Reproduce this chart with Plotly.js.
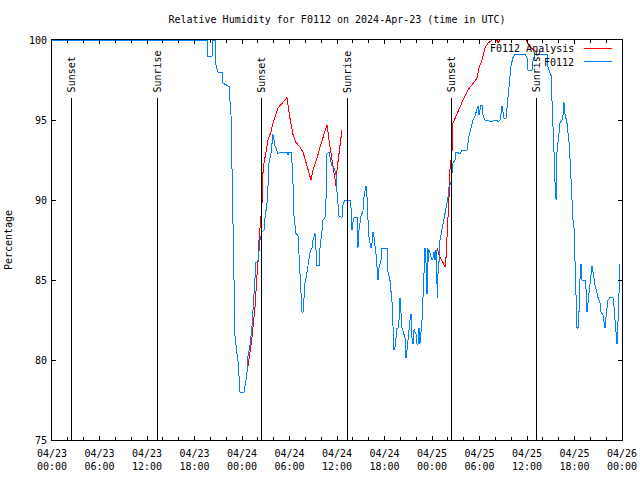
<!DOCTYPE html>
<html>
<head>
<meta charset="utf-8">
<script src="https://cdn.plot.ly/plotly-3.0.1.min.js"></script>
<style>
html,body{margin:0;padding:0;background:#fff;}
#chart{width:640px;height:480px;}
#chart .scatterlayer path.js-line{shape-rendering:crispEdges;}
#chart .shapelayer path{shape-rendering:crispEdges;}
</style>
</head>
<body>
<div id="chart"></div>
<script>
// Hours since 2024-04-23 00:00 UTC, and relative humidity (%) for station F0112
const startDate = '2024-04-23';
const blueHours = [0,19.58,19.70,20.21,20.34,20.59,20.72,20.97,21.47,21.60,22.36,22.61,22.74,22.86,22.99,23.12,23.37,23.49,23.75,24.25,24.50,24.63,24.76,25.01,25.26,25.39,25.52,25.77,26.02,26.15,26.27,26.53,26.78,26.91,27.16,27.28,27.41,27.66,27.79,27.91,28.17,28.42,28.55,28.80,29.68,29.81,29.94,30.19,30.32,30.44,30.57,30.82,31.07,31.20,31.33,31.45,31.58,31.71,31.83,31.96,32.21,32.34,32.59,32.84,32.97,33.22,33.35,33.47,33.73,33.85,34.11,34.23,34.48,34.61,34.74,34.99,35.24,35.37,35.62,35.87,36.00,36.13,36.25,36.63,36.76,37.01,37.64,37.77,37.89,38.02,38.15,38.53,38.59,38.65,38.78,39.03,39.28,39.41,39.66,39.79,39.92,40.04,40.29,40.42,40.55,40.67,40.93,41.05,41.18,41.31,41.56,41.68,42.32,42.44,42.69,42.95,43.07,43.20,43.33,43.45,43.58,43.71,43.83,43.96,44.08,44.21,44.59,44.72,44.84,44.97,45.22,45.35,45.47,45.60,45.73,45.98,46.11,46.23,46.36,46.48,46.61,46.74,46.86,46.99,47.12,47.24,47.37,47.49,47.56,47.62,47.87,48.00,48.13,48.25,48.38,48.51,48.63,48.69,48.76,48.88,49.01,49.26,49.39,49.64,49.89,50.02,50.15,50.40,50.53,50.65,50.90,51.03,51.54,51.79,52.42,52.55,52.67,52.93,53.18,53.43,53.68,53.81,53.94,54.19,54.32,54.44,54.69,55.58,55.83,56.21,56.34,56.59,56.72,56.84,56.97,57.10,57.35,57.47,57.60,57.73,57.98,58.23,58.48,59.75,60.00,60.13,60.63,60.76,61.01,62.53,62.65,63.03,63.16,63.29,63.41,63.54,63.67,63.79,64.04,64.17,64.42,64.55,64.67,64.80,65.05,65.18,65.31,65.43,65.56,65.68,65.81,65.94,66.06,66.19,66.32,66.44,66.57,66.69,66.82,66.95,67.33,67.45,67.58,67.71,67.83,68.08,68.21,68.34,68.46,68.59,68.84,68.97,69.22,69.35,69.60,69.73,69.85,69.98,70.11,70.23,70.48,70.86,70.99,71.12,71.24,71.37,71.49,71.62,71.75];
const blueValues = [100,100,99.0,99.0,100,100,98.4,98.0,98.0,97.3,97.1,95.3,91.9,88.0,84.0,81.5,80.4,80.0,78.0,78.0,78.75,79.25,80.25,80.9,82.1,83.0,84.5,86.1,86.1,86.7,87.5,88.0,88.1,88.9,89.8,90.8,92.3,92.9,93.6,94.1,93.4,93.1,92.9,93.0,93.0,92.8,93.0,93.0,92.3,91.1,89.0,87.9,87.8,86.6,85.2,83.75,83.0,83.0,84.2,84.8,85.5,86.0,86.7,87.0,87.5,87.9,86.9,85.9,85.9,87.0,88.1,88.75,88.9,90.0,92.9,93.0,92.4,92.1,92.0,91.6,90.5,89.8,89.0,88.9,89.7,90.0,90.0,89.5,88.1,88.6,88.9,88.9,87.6,87.0,88.1,89.0,89.3,90.2,90.9,90.2,88.75,87.7,87.0,87.3,88.0,87.7,86.6,85.75,85.0,85.75,86.25,87.0,87.0,85.5,85.0,83.6,82.3,80.6,80.8,81.4,82.0,82.0,82.5,83.9,82.5,82.0,81.4,80.1,80.6,81.4,82.5,82.9,81.4,81.0,81.9,81.6,81.0,81.0,82.0,81.0,81.75,82.5,83.9,86.1,87.0,86.1,84.1,87.0,86.1,86.9,86.4,86.25,86.4,86.75,86.25,86.9,84.8,83.9,85.4,86.1,87.5,88.1,88.5,89.2,89.8,90.2,90.8,91.1,91.6,92.3,92.5,93.0,92.9,93.1,93.1,93.6,94.0,94.5,95.0,95.25,95.75,95.9,95.3,95.9,95.9,95.3,95.0,94.9,95.0,95.0,94.9,95.0,95.4,95.9,95.5,95.1,95.1,95.75,96.7,97.5,98.4,98.9,99.1,99.1,98.9,98.1,98.1,98.7,99.1,99.1,98.3,97.8,96.4,94.8,93.0,91.1,90.0,93.0,94.25,94.8,95.0,95.3,96.1,95.4,94.8,94.25,93.6,92.6,91.25,89.8,88.75,88.25,86.6,83.6,82.0,82.0,83.0,85.0,86.0,85.0,85.0,84.5,83.0,83.6,84.2,85.4,85.9,85.5,85.0,84.7,84.2,83.9,83.6,83.0,82.8,82.3,82.0,82.7,83.25,83.75,83.9,83.9,83.3,82.5,81.7,81.0,82.3,84.7,86.0];

const redHours = [24.76,25.26,25.64,25.89,26.02,26.15,26.40,26.53,26.65,26.78,27.03,27.28,27.66,27.91,28.55,29.18,29.68,30.06,30.44,30.82,31.33,31.71,32.08,32.34,32.59,32.72,32.97,33.47,33.85,34.23,34.74,34.99,35.37,35.49,35.75,35.87,36.00,36.25,36.51,36.63,42.00,48.63,49.01,49.39,49.64,49.77,49.89,50.02,50.15,50.27,50.53,50.65,50.90,51.29,51.79,52.17,52.55,53.05,53.68,53.94,54.32,54.69,55.07,55.58,55.96,56.34,56.72,57.47,58.48,59.37,59.87,60.38,61.01];
const redValues = [79.6,81.4,83.3,85.0,86.25,87.5,88.75,89.8,91.7,92.3,93.0,93.75,94.25,94.8,95.75,96.1,96.4,95.1,94.1,93.6,93.3,93.0,92.3,91.9,91.4,91.25,91.9,92.6,93.3,93.9,94.7,93.75,92.5,91.9,91.1,90.9,91.9,92.9,93.75,94.4,null,87.0,86.4,86.1,85.8,86.4,87.5,88.75,90.2,91.9,93.1,94.8,95.1,95.6,96.1,96.5,96.9,97.2,97.6,98.25,98.75,99.5,99.8,100.0,100.3,99.8,100.1,100.3,100.4,100.3,100.0,99.6,99.3];

const eventTimes = ['2024-04-23 02:30','2024-04-23 13:23','2024-04-24 02:26','2024-04-24 13:18','2024-04-25 02:28','2024-04-25 13:13'];
const eventLabels = ['Sunset','Sunrise','Sunset','Sunrise','Sunset','Sunrise'];
const eventLineTop = 96.4;

const seriesNames = ['F0112 Analysis','F0112'];
const seriesColors = ['#ff0000','#0080ff'];

function toStamp(h){
  const base = Date.UTC(2024,3,23,0,0,0);
  const d = new Date(base + Math.round(h*3600)*1000);
  return d.toISOString().slice(0,19).replace('T',' ');
}

const FONT = 'DejaVu Sans Mono, Liberation Mono, monospace';

const traces = [
  {x: redHours.map(toStamp), y: redValues, type:'scatter', mode:'lines', name: seriesNames[0],
   line:{color: seriesColors[0], width:1}, connectgaps:false, showlegend:false},
  {x: blueHours.map(toStamp), y: blueValues, type:'scatter', mode:'lines', name: seriesNames[1],
   line:{color: seriesColors[1], width:1}, showlegend:false}
];

const shapes = [];
const annotations = [];
eventTimes.forEach((t,i)=>{
  shapes.push({type:'line', xref:'x', yref:'y', x0:t, x1:t, y0:75, y1:eventLineTop,
    line:{color:'#000', width:1}});
  annotations.push({x:t, y:eventLineTop, xref:'x', yref:'y', text:eventLabels[i], textangle:-90,
    showarrow:false, xanchor:'center', yanchor:'bottom', yshift:3,
    font:{family:FONT, size:10, color:'#000'}});
});

// manual legend (text left of sample line, gnuplot style)
const legY = [0.9775, 0.9445];
seriesNames.forEach((n,i)=>{
  annotations.push({xref:'paper', yref:'paper', x:0.919, y:legY[i], text:n, showarrow:false,
    xanchor:'right', yanchor:'middle', font:{family:FONT, size:10, color:'#000'}});
  shapes.push({type:'line', xref:'paper', yref:'paper', x0:0.9328, x1:0.9825, y0:legY[i]+0.0025, y1:legY[i]+0.0025,
    line:{color: seriesColors[i], width:1}});
});

const layout = {
  width:640, height:480,
  margin:{l:52, r:18, t:40, b:40},
  paper_bgcolor:'#fff', plot_bgcolor:'#fff',
  font:{family:FONT, size:10, color:'#000'},
  title:{text:'Relative Humidity for F0112 on 2024-Apr-23 (time in UTC)', x:0.5, xref:'paper',
    y:1-19/480, yref:'container', yanchor:'middle', font:{family:FONT, size:10, color:'#000'}},
  xaxis:{type:'date', range:['2024-04-23 00:00','2024-04-26 00:00'], tick0:'2024-04-23', dtick:6*3600*1000,
    tickformat:'%m/%d<br>%H:%M', ticks:'inside', ticklen:4, tickcolor:'#000', mirror:'allticks',
    showline:true, linecolor:'#000', linewidth:1, showgrid:false, zeroline:false, ticklabelstandoff:4,
    tickfont:{family:FONT, size:10, color:'#000'},
    minor:{dtick:2*3600*1000, ticks:'inside', ticklen:3, tickcolor:'#000', showgrid:false}},
  yaxis:{range:[75,100], dtick:5, ticks:'inside', ticklen:4, tickcolor:'#000', mirror:'allticks',
    showline:true, linecolor:'#000', linewidth:1, showgrid:false, zeroline:false, ticklabelstandoff:2,
    tickfont:{family:FONT, size:10, color:'#000'},
    title:{text:'Percentage', standoff:14, font:{family:FONT, size:10, color:'#000'}}},
  shapes: shapes,
  annotations: annotations,
  showlegend:false
};

Plotly.newPlot('chart', traces, layout, {displayModeBar:false, staticPlot:true});
</script>
</body>
</html>
